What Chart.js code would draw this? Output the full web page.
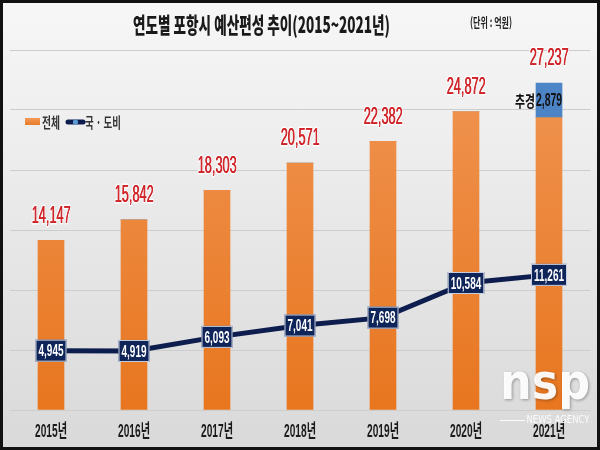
<!DOCTYPE html>
<html><head><meta charset="utf-8">
<script src="https://cdn.jsdelivr.net/npm/chart.js@4/dist/chart.umd.min.js"></script>
<style>html,body{margin:0;padding:0;background:#fff}canvas{display:block}</style>
</head><body>
<canvas id="c" width="600" height="450"></canvas>
<script>
const years = ['2015년','2016년','2017년','2018년','2019년','2020년','2021년'];
const totalBudget = [14147, 15842, 18303, 20571, 22382, 24872, 27237];
const supplementary = [0, 0, 0, 0, 0, 0, 2879];
const nationalProvincial = [4945, 4919, 6093, 7041, 7698, 10584, 11261];
const baseBudget = totalBudget.map((v, i) => v - supplementary[i]);
const yMax = 30000, yStep = 5000;
const titleText = '연도별 포항시 예산편성 추이(2015~2021년)';
const unitText = '(단위 : 억원)';
const seriesNames = ['전체', '추경', '국 · 도비'];

const LAT = '"Liberation Sans","Noto Sans CJK KR",sans-serif';
const KR = '"Noto Sans CJK KR",sans-serif';
const fmt = v => v.toLocaleString('en-US');

function measure(ctx, text, font) {
  ctx.save(); ctx.font = font; const w = ctx.measureText(text).width; ctx.restore(); return w;
}

function drawText(ctx, text, x, y, font, color, opts = {}) {
  ctx.save();
  ctx.font = font;
  const w = ctx.measureText(text).width;
  let sx = opts.scaleX || 1;
  if (opts.width) sx = opts.width / w;
  ctx.translate(x, y);
  ctx.scale(sx, 1);
  ctx.textBaseline = 'middle';
  ctx.textAlign = opts.align || 'center';
  if (opts.stroke) {
    ctx.lineJoin = 'round';
    ctx.lineWidth = opts.strokeWidth || 3;
    ctx.strokeStyle = opts.stroke;
    ctx.strokeText(text, 0, 0);
  }
  ctx.fillStyle = color;
  ctx.fillText(text, 0, 0);
  ctx.restore();
  return w * sx;
}

const decor = {
  id: 'decor',
  beforeDraw(chart) {
    const ctx = chart.ctx;
    const g = ctx.createLinearGradient(0, 0, 0, 450);
    g.addColorStop(0, '#f7f7f7');
    g.addColorStop(1, '#d9d9d9');
    ctx.save();
    ctx.fillStyle = g;
    ctx.fillRect(0, 0, 600, 450);
    ctx.restore();
  },
  afterDatasetsDraw(chart) {
    const ctx = chart.ctx;
    const xs = chart.scales.x, ys = chart.scales.y;
    // total labels (condensed)
    const redFont = '500 23px ' + LAT;
    const redScale = 39 / measure(ctx, '14,147', redFont);
    totalBudget.forEach((v, i) => {
      const x = xs.getPixelForValue(i);
      const y = ys.getPixelForValue(v) - 24;
      drawText(ctx, fmt(v), x, y, redFont, '#cf2429',
        { scaleX: redScale, stroke: 'rgba(255,255,255,0.95)', strokeWidth: 3 });
      drawText(ctx, fmt(v), x + 0.4, y, redFont, '#cf2429', { scaleX: redScale });
    });
    // supplementary label
    const sm = chart.getDatasetMeta(1);
    supplementary.forEach((v, i) => {
      if (!v) return;
      const el = sm.data[i];
      const cy = (el.y + el.base) / 2;
      const left = el.x - 13;
      drawText(ctx, fmt(v), left, cy, 'bold 19px ' + LAT, '#111', { width: 26, align: 'left' });
      drawText(ctx, '추경', left - 1, cy, 'bold 16px ' + KR, '#111', { width: 20, align: 'right' });
    });
    // line value boxes
    const boxFont = 'bold 17px ' + LAT;
    const boxScale = 25 / measure(ctx, '4,945', boxFont);
    const lm = chart.getDatasetMeta(2);
    lm.data.forEach((el, i) => {
      const txt = fmt(nationalProvincial[i]);
      const tw = measure(ctx, txt, boxFont) * boxScale;
      const bw = tw + 6, bh = 22;
      ctx.save();
      ctx.fillStyle = '#0f2459';
      ctx.fillRect(el.x - bw / 2, el.y - bh / 2, bw, bh);
      ctx.strokeStyle = 'rgba(220,226,238,0.9)';
      ctx.lineWidth = 1;
      ctx.strokeRect(el.x - bw / 2 + 0.5, el.y - bh / 2 + 0.5, bw - 1, bh - 1);
      ctx.restore();
      drawText(ctx, txt, el.x, el.y + 1, boxFont, '#ffffff', { scaleX: boxScale });
    });
  },
  afterDraw(chart) {
    const ctx = chart.ctx;
    const xs = chart.scales.x;
    // title
    drawText(ctx, titleText, 261.5, 25, '900 22px ' + KR, '#1a1a1a', { width: 257 });
    drawText(ctx, unitText, 491, 22, 'bold 13px ' + KR, '#222', { width: 42 });
    // legend
    ctx.save();
    const lg = ctx.createLinearGradient(0, 118, 0, 125);
    lg.addColorStop(0, '#f29a58'); lg.addColorStop(1, '#e87a26');
    ctx.fillStyle = lg;
    ctx.fillRect(25, 118, 15, 7);
    ctx.restore();
    drawText(ctx, seriesNames[0], 42, 122, 'bold 15px ' + KR, '#333', { width: 18, align: 'left' });
    ctx.save();
    ctx.strokeStyle = '#0d1d4d'; ctx.lineWidth = 5; ctx.lineCap = 'round';
    ctx.beginPath(); ctx.moveTo(68, 122); ctx.lineTo(83, 122); ctx.stroke();
    ctx.fillStyle = '#5b9bd5';
    ctx.beginPath(); ctx.arc(75.5, 122, 2.6, 0, Math.PI * 2); ctx.fill();
    ctx.restore();
    drawText(ctx, seriesNames[2], 85, 122, 'bold 15px ' + KR, '#333', { width: 36, align: 'left' });
    // x labels
    years.forEach((lab, i) => {
      const x = xs.getPixelForValue(i);
      drawText(ctx, xs.getLabelForValue(i), x, 432, 'bold 18px ' + LAT, '#1a1a1a', { width: 32 });
    });
    // watermark
    ctx.save();
    ctx.shadowColor = 'rgba(0,0,0,0.35)'; ctx.shadowBlur = 3; ctx.shadowOffsetX = 1; ctx.shadowOffsetY = 1;
    drawText(ctx, 'nsp', 545, 386, 'bold 50px "DejaVu Sans",sans-serif', 'rgba(255,255,255,0.95)', { width: 90 });
    ctx.restore();
    ctx.save();
    ctx.strokeStyle = 'rgba(255,255,255,0.9)'; ctx.lineWidth = 1;
    ctx.beginPath(); ctx.moveTo(500, 420.5); ctx.lineTo(525, 420.5); ctx.stroke();
    ctx.restore();
    drawText(ctx, 'NEWS AGENCY', 558, 420, '11px "DejaVu Sans",sans-serif', 'rgba(255,255,255,0.9)', { width: 63 });
    // frame
    ctx.save();
    ctx.strokeStyle = '#111'; ctx.lineWidth = 3;
    ctx.strokeRect(1.5, 1.5, 597, 447);
    ctx.restore();
  }
};

new Chart(document.getElementById('c'), {
  data: {
    labels: years,
    datasets: [
      {
        type: 'bar', label: seriesNames[0], data: baseBudget, order: 1,
        backgroundColor: (c) => {
          const ca = c.chart.chartArea;
          if (!ca) return '#ec7f2c';
          const g = c.chart.ctx.createLinearGradient(0, ca.top, 0, ca.bottom);
          g.addColorStop(0, '#f09655');
          g.addColorStop(1, '#e8761f');
          return g;
        },
        barThickness: 26, borderWidth: 0
      },
      {
        type: 'bar', label: seriesNames[1], data: supplementary, order: 1,
        backgroundColor: '#4d84c6', barThickness: 26, borderWidth: 0
      },
      {
        type: 'line', label: seriesNames[2], data: nationalProvincial, order: 0, stack: 'line',
        borderColor: '#0d1d4d', borderWidth: 5, pointRadius: 0, tension: 0, fill: false
      }
    ]
  },
  options: {
    responsive: false,
    animation: false,
    devicePixelRatio: 1,
    layout: { padding: { top: 50, left: 9.5, right: 9.5, bottom: 40 } },
    plugins: { legend: { display: false }, tooltip: { enabled: false }, title: { display: false } },
    scales: {
      x: { stacked: true, display: false },
      y: {
        stacked: true, min: 0, max: yMax,
        ticks: { display: false, stepSize: yStep },
        grid: { color: '#cdcdcd', lineWidth: 1, drawTicks: false },
        border: { display: false },
        afterFit: s => { s.width = 0; }
      }
    }
  },
  plugins: [decor]
});
</script>
</body></html>
